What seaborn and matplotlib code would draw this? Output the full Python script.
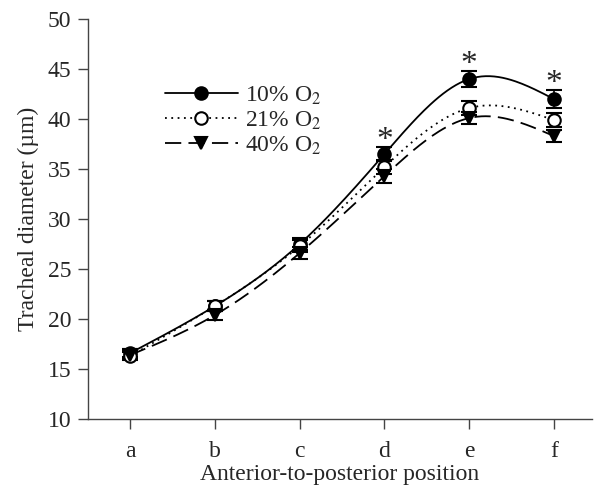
import numpy as np
import matplotlib
matplotlib.use('Agg')
import matplotlib.pyplot as plt
from matplotlib.lines import Line2D
import seaborn as sns

positions = ['a', 'b', 'c', 'd', 'e', 'f']
o2_10 = [16.6, 21.3, 27.5, 36.5, 44.0, 42.0]
o2_10_err = [0.4, 0.5, 0.6, 0.7, 0.8, 0.9]
o2_21 = [16.3, 21.3, 27.3, 35.2, 41.1, 39.9]
o2_21_err = [0.4, 0.5, 0.6, 0.7, 0.7, 0.7]
o2_40 = [16.4, 20.4, 26.6, 34.3, 40.1, 38.3]
o2_40_err = [0.4, 0.5, 0.6, 0.7, 0.6, 0.6]
labels = ['10% O$_2$', '21% O$_2$', '40% O$_2$']
star_idx = [3, 4, 5]


def natural_spline(x, y, n=200):
    x = np.asarray(x, float)
    y = np.asarray(y, float)
    k = len(x)
    h = np.diff(x)
    A = np.zeros((k, k))
    r = np.zeros(k)
    A[0, 0] = A[-1, -1] = 1
    for i in range(1, k - 1):
        A[i, i - 1] = h[i - 1]
        A[i, i] = 2 * (h[i - 1] + h[i])
        A[i, i + 1] = h[i]
        r[i] = 3 * ((y[i + 1] - y[i]) / h[i] - (y[i] - y[i - 1]) / h[i - 1])
    c = np.linalg.solve(A, r)
    xs = np.linspace(x[0], x[-1], n)
    ys = np.empty_like(xs)
    for j, xv in enumerate(xs):
        i = min(np.searchsorted(x, xv, side='right') - 1, k - 2)
        b = (y[i + 1] - y[i]) / h[i] - h[i] * (2 * c[i] + c[i + 1]) / 3
        d = (c[i + 1] - c[i]) / (3 * h[i])
        t = xv - x[i]
        ys[j] = y[i] + b * t + c[i] * t ** 2 + d * t ** 3
    return xs, ys


sns.set_style('ticks')
plt.rcParams['font.family'] = ['Liberation Serif', 'DejaVu Serif']
plt.rcParams['mathtext.fontset'] = 'stix'

fig = plt.figure(figsize=(5.98, 4.95), dpi=100)
ax = fig.add_axes([0.147, 0.1535, 0.843, 0.808])

xpos = np.arange(1, len(positions) + 1)
styles = [
    dict(ls='-', marker='o', mfc='black'),
    dict(ls=(0, (1, 2.5)), marker='o', mfc='white'),
    dict(ls=(0, (9, 4)), marker='v', mfc='black'),
]
series = [(o2_10, o2_10_err), (o2_21, o2_21_err), (o2_40, o2_40_err)]

handles = []
for (vals, errs), st, lab in zip(series, styles, labels):
    xs, ys = natural_spline(xpos, vals)
    sns.lineplot(x=xs, y=ys, ax=ax, color='black', lw=1.3, linestyle=st['ls'],
                 sort=False, legend=False)
    ax.errorbar(xpos, vals, yerr=errs, fmt=st['marker'], ms=9, mfc=st['mfc'],
                mec='black', mew=1.5, ecolor='black', elinewidth=1.2,
                capsize=6, capthick=1.2, zorder=5)
    handles.append(Line2D([], [], color='black', lw=1.3, linestyle=st['ls'],
                          marker=st['marker'], ms=9, mfc=st['mfc'],
                          mec='black', mew=1.5))

for i in star_idx:
    ax.text(xpos[i], o2_10[i] + o2_10_err[i] + 0.6, '*', ha='center',
            va='center', fontsize=24)

ax.legend(handles, labels, loc='upper left', bbox_to_anchor=(0.11, 0.89),
          frameon=False, fontsize=17, handlelength=3.1, labelspacing=0.12,
          handletextpad=0.3)

ax.set_xlim(0.5, 6.45)
ax.set_ylim(10, 50)
ax.set_xticks(xpos)
ax.set_xticklabels(positions)
ax.set_yticks(np.arange(10, 51, 5))
ax.set_xlabel('Anterior-to-posterior position', fontsize=17, labelpad=1)
ax.set_ylabel('Tracheal diameter (µm)', fontsize=17, labelpad=6)
ax.tick_params(labelsize=17, length=7, width=1, color='#444444',
               direction='out', pad=5)
ax.tick_params(axis='x', pad=9)
for s in ['left', 'bottom']:
    ax.spines[s].set_color('#444444')
    ax.spines[s].set_linewidth(1)
sns.despine(ax=ax)

fig.savefig('out.png', dpi=100)
